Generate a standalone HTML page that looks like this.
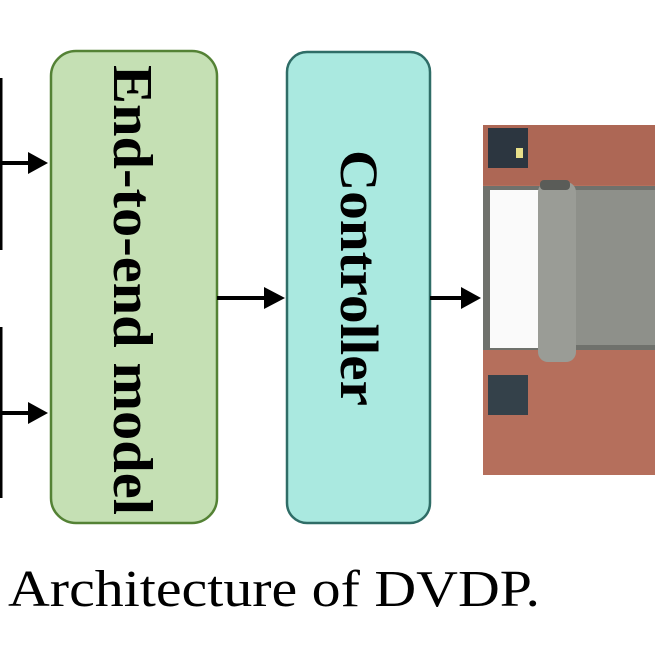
<!DOCTYPE html>
<html><head><style>html,body{margin:0;padding:0;background:#fff;width:655px;height:655px;overflow:hidden}
text{font-family:"Liberation Serif","Times New Roman",Times,serif}</style></head>
<body>
<svg width="655" height="655" viewBox="0 0 655 655" xmlns="http://www.w3.org/2000/svg">
<rect width="655" height="655" fill="#fff"/>
<line x1="1" y1="78" x2="1" y2="250" stroke="#000" stroke-width="3"/>
<line x1="1" y1="327" x2="1" y2="498" stroke="#000" stroke-width="3"/>
<path d="M0,163 H36" stroke="#000" stroke-width="4"/>
<path d="M28,152 L48,163 L28,174 z" fill="#000"/>
<path d="M0,413 H36" stroke="#000" stroke-width="4"/>
<path d="M28,402 L48,413 L28,424 z" fill="#000"/>
<rect x="51" y="51" width="166" height="472" rx="25" fill="#c5e0b4" stroke="#548235" stroke-width="2.5"/>
<text transform="translate(114,290) rotate(90)" text-anchor="middle" font-weight="bold" font-size="56" textLength="450" lengthAdjust="spacingAndGlyphs" fill="#000">End-to-end model</text>
<path d="M217,298 H272" stroke="#000" stroke-width="4"/>
<path d="M264,287 L285,298 L264,309 z" fill="#000"/>
<rect x="287" y="52" width="143" height="471" rx="20" fill="#aae9e0" stroke="#2f6d67" stroke-width="2.5"/>
<text transform="translate(341,278) rotate(90)" text-anchor="middle" font-weight="bold" font-size="54" textLength="256" lengthAdjust="spacingAndGlyphs" fill="#000">Controller</text>
<path d="M430,298 H468" stroke="#000" stroke-width="4"/>
<path d="M461,287 L481,298 L461,309 z" fill="#000"/>
<rect x="483" y="125" width="172" height="350" fill="#b56f5c"/>
<rect x="483" y="125" width="172" height="60" fill="#ad6755"/>
<rect x="488" y="128" width="40" height="40" fill="#2c3640"/>
<rect x="516" y="148" width="7" height="10" fill="#e8e08a"/>
<rect x="488" y="375" width="40" height="40" fill="#34414a"/>
<rect x="483" y="186" width="172" height="164" fill="#6f716c"/>
<rect x="490" y="190" width="60" height="158" fill="#fafafa"/>
<rect x="552" y="190" width="103" height="155" fill="#8e908a"/>
<rect x="538" y="182" width="38" height="180" rx="10" fill="#9a9c96"/>
<rect x="540" y="180" width="30" height="10" rx="4" fill="#5a5c58"/>
<text x="8" y="606" font-size="52" textLength="532" lengthAdjust="spacingAndGlyphs" fill="#000">Architecture of DVDP.</text>
</svg>
</body></html>
